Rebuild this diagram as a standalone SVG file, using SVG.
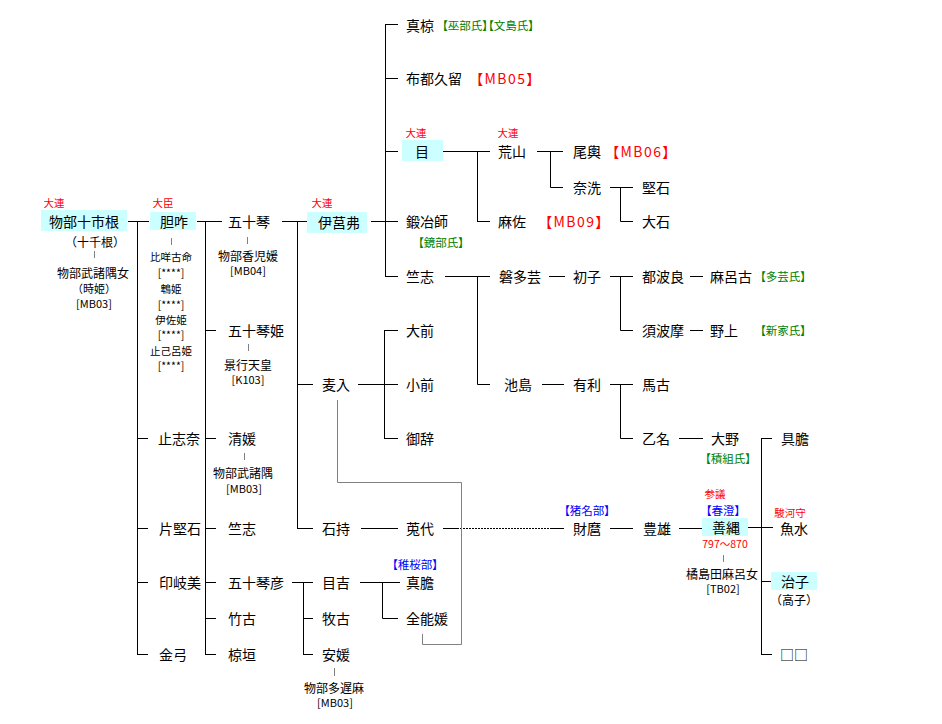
<svg xmlns="http://www.w3.org/2000/svg" width="942" height="724" viewBox="0 0 942 724">
<style>
text{font-family:"Noto Sans CJK JP","Noto Sans CJK SC",sans-serif;dominant-baseline:central;fill:#000}
.n{font-size:14px}
.s{font-size:12px;text-anchor:middle}
.t{font-size:11px;text-anchor:middle}
.u{font-size:10.5px;text-anchor:middle}
.r{font-size:10.5px;fill:#f00;text-anchor:middle}
.g{font-size:11.5px;fill:#008000;font-feature-settings:"palt"}
.b{font-size:11.5px;fill:#00f;font-feature-settings:"palt";text-anchor:middle}
.rm{font-size:14px;fill:#f00;font-feature-settings:"palt";letter-spacing:1.5px}
.c{text-anchor:middle}
.hl{fill:#ccffff}
.ln{stroke:#000;stroke-width:1;fill:none}
.gy{stroke:#808080;stroke-width:1;fill:none}
.dt{stroke:#000;stroke-width:1;stroke-dasharray:2,1;fill:none}
</style>
<rect width="942" height="724" fill="#fff"/>
<g id="connectors">
<path class="ln" d="M128,221.5H149M137.5,221V655M137,438.5H148M137,528.5H148M137,582.5H148M137,654.5H148"/>
<path class="ln" d="M197,221.5H222M205.5,221V655M205,330.5H216M205,438.5H216M205,528.5H216M205,582.5H216M205,618.5H216M205,654.5H216"/>
<path class="ln" d="M282,221.5H307M297.5,221V529M297,384.5H313M297,528.5H313"/>
<path class="ln" d="M371,221.5H398M385.5,24V277M385,24.5H398M385,78.5H398M385,151.5H398M385,276.5H398"/>
<path class="ln" d="M443,151.5H490M477.5,151V222M477,221.5H490"/>
<path class="ln" d="M537,151.5H563M550.5,151V187.5H563"/>
<path class="ln" d="M610,187.5H633M620.5,187V221.5H633"/>
<path class="ln" d="M445,276.5H490M477.5,276V384.5H490"/>
<path class="ln" d="M549,276.5H565"/>
<path class="ln" d="M610,276.5H633M620.5,276V330.5H633"/>
<path class="ln" d="M690,276.5H703M690,330.5H703"/>
<path class="ln" d="M358,384.5H398M384.5,330V439M384,330.5H398M384,438.5H398"/>
<path class="ln" d="M542,384.5H564"/>
<path class="ln" d="M610,384.5H633M620.5,384V438.5H633"/>
<path class="ln" d="M679,438.5H703"/>
<path class="ln" d="M761.5,438V655M761,438.5H772M761,581.5H771M761,654.5H772"/>
<path class="ln" d="M748,527.5H773"/>
<path class="ln" d="M679,528.5H702"/>
<path class="ln" d="M610,528.5H633"/>
<path class="ln" d="M361,528.5H398"/>
<path class="ln" d="M443,528.5H457M552,528.5H564"/>
<path class="dt" d="M457,528.5H552"/>
<path class="ln" d="M292,582.5H313M303.5,582V655M303,618.5H313M303,654.5H313"/>
<path class="ln" d="M360,582.5H400M382.5,582V618.5H398"/>
<path class="gy" d="M337.5,400V482.5H461.5V644.5H422.5V634"/>
<path class="gy" d="M94.5,251V258M171.5,238V245M247.5,237V244M248.5,344V351M244.5,453V460M334.5,668V676M723.5,555V562"/>
</g>
<g id="n1">
<rect class="hl" x="41" y="210" width="86" height="21"/>
<text class="n c" x="84" y="221">物部十市根</text>
<text class="r" x="54" y="202">大連</text>
<text class="s" x="95" y="241">（十千根）</text>
<text class="s" x="93" y="272">物部武諸隅女</text>
<text class="t" x="94" y="288">（時姫）</text>
<text class="t" x="94" y="303">[MB03]</text>
</g>
<g id="n2">
<rect class="hl" x="150" y="212" width="46" height="18"/>
<text class="n c" x="174" y="221">胆咋</text>
<text class="r" x="163" y="202">大臣</text>
<text class="u" x="171" y="256">比咩古命</text>
<text class="u" x="171" y="272">[****]</text>
<text class="u" x="171" y="288">鵯姫</text>
<text class="u" x="171" y="304">[****]</text>
<text class="u" x="171" y="319">伊佐姫</text>
<text class="u" x="171" y="334.5">[****]</text>
<text class="u" x="171" y="350">止己呂姫</text>
<text class="u" x="171" y="365">[****]</text>
</g>
<g id="n3"><text class="n" x="158" y="438">止志奈</text></g>
<g id="n4"><text class="n" x="159" y="528">片堅石</text></g>
<g id="n5"><text class="n" x="159" y="582">印岐美</text></g>
<g id="n6"><text class="n" x="159" y="654">金弓</text></g>
<g id="n7">
<text class="n" x="228" y="221">五十琴</text>
<text class="s" x="248" y="255">物部香児媛</text>
<text class="t" x="248" y="270">[MB04]</text>
</g>
<g id="n8">
<text class="n" x="228" y="330">五十琴姫</text>
<text class="s" x="248" y="364">景行天皇</text>
<text class="t" x="248" y="379">[K103]</text>
</g>
<g id="n9">
<text class="n" x="228" y="438">清媛</text>
<text class="s" x="243" y="472">物部武諸隅</text>
<text class="t" x="244" y="488">[MB03]</text>
</g>
<g id="n10"><text class="n" x="228" y="528">竺志</text></g>
<g id="n11"><text class="n" x="228" y="582">五十琴彦</text></g>
<g id="n12"><text class="n" x="228" y="618">竹古</text></g>
<g id="n13"><text class="n" x="228" y="654">椋垣</text></g>
<g id="n14">
<rect class="hl" x="307" y="212" width="60" height="21"/>
<text class="n c" x="339" y="222">伊莒弗</text>
<text class="r" x="322" y="202">大連</text>
</g>
<g id="n15"><text class="n" x="322" y="384">麦入</text></g>
<g id="n16"><text class="n" x="322" y="528">石持</text></g>
<g id="n17"><text class="n" x="322" y="582">目吉</text></g>
<g id="n18"><text class="n" x="322" y="618">牧古</text></g>
<g id="n19">
<text class="n" x="322" y="654">安媛</text>
<text class="s" x="334" y="687">物部多遅麻</text>
<text class="t" x="335" y="702">[MB03]</text>
</g>
<g id="n20">
<text class="n" x="406" y="25">真椋</text>
<text class="g" x="442" y="25">【巫部氏】【文島氏】</text>
</g>
<g id="n21">
<text class="n" x="406" y="78">布都久留</text>
<text class="rm" x="476" y="78">【MB05】</text>
</g>
<g id="n22">
<rect class="hl" x="402" y="140" width="41" height="21"/>
<text class="n c" x="422" y="151">目</text>
<text class="r" x="416" y="132">大連</text>
</g>
<g id="n23">
<text class="n" x="406" y="221">鍛冶師</text>
<text class="g" x="418" y="242">【鏡部氏】</text>
</g>
<g id="n24"><text class="n" x="406" y="276">竺志</text></g>
<g id="n25"><text class="n" x="406" y="330">大前</text></g>
<g id="n26"><text class="n" x="406" y="384">小前</text></g>
<g id="n27"><text class="n" x="406" y="438">御辞</text></g>
<g id="n28"><text class="n" x="406" y="528">莵代</text></g>
<g id="n29">
<text class="n" x="406" y="582">真膽</text>
<text class="b" x="415" y="564">【稚桜部】</text>
</g>
<g id="n30"><text class="n" x="406" y="618">全能媛</text></g>
<g id="n31">
<text class="n" x="498" y="151">荒山</text>
<text class="r" x="508" y="132">大連</text>
</g>
<g id="n32">
<text class="n" x="498" y="221">麻佐</text>
<text class="rm" x="545" y="221">【MB09】</text>
</g>
<g id="n33"><text class="n" x="499" y="276">磐多芸</text></g>
<g id="n34"><text class="n" x="504" y="384">池島</text></g>
<g id="n35">
<text class="n" x="573" y="151">尾輿</text>
<text class="rm" x="612" y="151">【MB06】</text>
</g>
<g id="n36"><text class="n" x="573" y="187">奈洗</text></g>
<g id="n37"><text class="n" x="573" y="276">初子</text></g>
<g id="n38"><text class="n" x="573" y="384">有利</text></g>
<g id="n39">
<text class="n" x="573" y="528">財麿</text>
<text class="b" x="587" y="510">【猪名部】</text>
</g>
<g id="n40"><text class="n" x="642" y="187">堅石</text></g>
<g id="n41"><text class="n" x="642" y="221">大石</text></g>
<g id="n42"><text class="n" x="642" y="276">都波良</text></g>
<g id="n43"><text class="n" x="642" y="330">須波摩</text></g>
<g id="n44"><text class="n" x="642" y="384">馬古</text></g>
<g id="n45"><text class="n" x="642" y="438">乙名</text></g>
<g id="n46"><text class="n" x="643" y="528">豊雄</text></g>
<g id="n47">
<text class="n" x="710" y="276">麻呂古</text>
<text class="g" x="760" y="276">【多芸氏】</text>
</g>
<g id="n48">
<text class="n" x="710" y="330">野上</text>
<text class="g" x="760" y="330">【新家氏】</text>
</g>
<g id="n49">
<text class="n" x="711" y="438">大野</text>
<text class="g c" x="728" y="458">【積組氏】</text>
</g>
<g id="n50">
<rect class="hl" x="702" y="518" width="46" height="18"/>
<text class="n c" x="726" y="527">善縄</text>
<text class="r" x="715" y="493">参議</text>
<text class="b" x="723" y="510">【春澄】</text>
<text class="r" x="725" y="543">797～870</text>
<text class="s" x="722" y="573">橘島田麻呂女</text>
<text class="t" x="723" y="588">[TB02]</text>
</g>
<g id="n51"><text class="n" x="781" y="438">具膽</text></g>
<g id="n52">
<text class="n" x="780" y="528">魚水</text>
<text class="r" x="790" y="512">駿河守</text>
</g>
<g id="n53">
<rect class="hl" x="771" y="572" width="46" height="18"/>
<text class="n c" x="795" y="581">治子</text>
<text class="s" x="794" y="599">（高子）</text>
</g>
<g id="n54"><text class="n" x="780" y="654">□□</text></g>
</svg>
